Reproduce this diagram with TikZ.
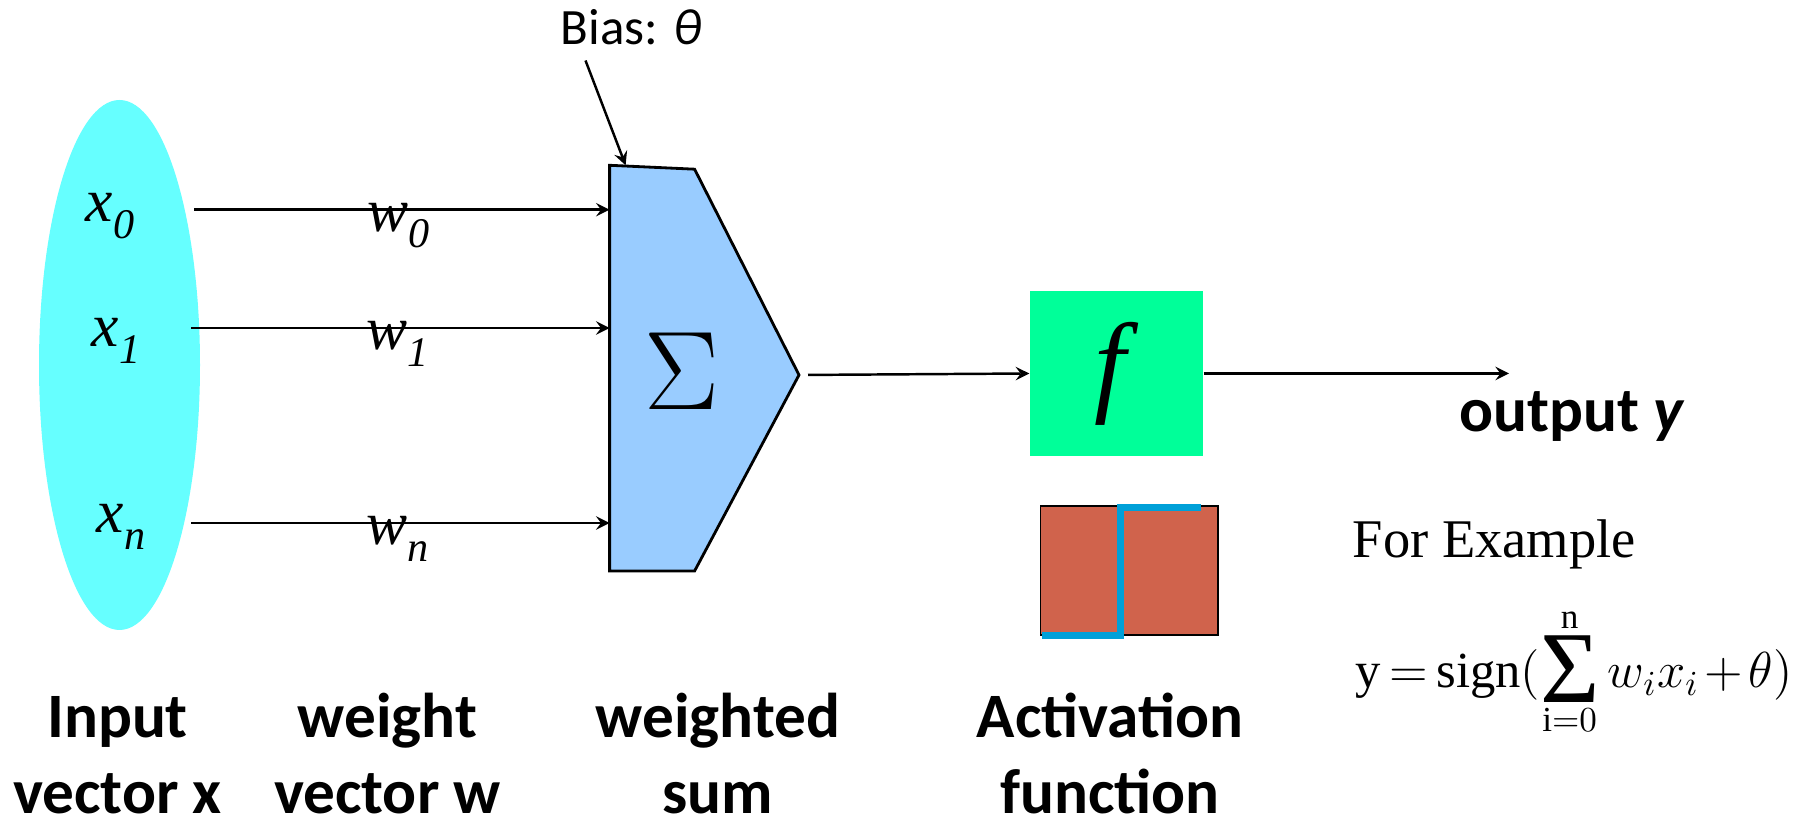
\documentclass[tikz,border=0pt]{standalone}
\usepackage{fontspec}
\setmainfont{Liberation Serif}
\setsansfont{Carlito}
\usepackage{tikz}
\usetikzlibrary{shapes,arrows}
\definecolor{inputcyan}{HTML}{66FFFF}
\definecolor{sumblue}{HTML}{99CCFF}
\definecolor{actgreen}{HTML}{00FF99}
\definecolor{steprust}{HTML}{D0634C}
\definecolor{stepblue}{HTML}{00A0D8}
\newcommand{\sublab}[2]{\textit{#1}\raisebox{-4.6pt}{\fontsize{12}{14}\selectfont\textit{#2}}}
\newcommand{\bigsum}{\mathop{\raisebox{-4pt}{\fontsize{29}{29}\selectfont Σ}}\limits}
\tikzstyle{wire}=[draw=black, line width=0.7pt, -stealth]
\tikzstyle{varlab}=[anchor=base west, inner sep=0pt, font=\fontsize{17.5}{20}\selectfont]
\tikzstyle{caption}=[anchor=base, align=center, inner sep=0pt, text depth=0pt, font=\sffamily\bfseries\fontsize{18}{21.9}\selectfont]
\tikzstyle{inputs}=[ellipse, fill=inputcyan, minimum width=1.61cm, minimum height=5.3cm, inner sep=0pt]
\tikzstyle{actbox}=[rectangle, fill=actgreen, minimum width=1.73cm, minimum height=1.65cm, inner sep=0pt, font=\fontsize{32}{36}\selectfont]
\tikzstyle{stepbox}=[rectangle, draw=black, line width=0.5pt, fill=steprust, minimum width=1.775cm, minimum height=1.29cm]
\tikzstyle{stepline}=[draw=stepblue, line width=2pt]

\begin{document}
\begin{tikzpicture}
\useasboundingbox (0,0) rectangle (18.18,-8.21);

\node[inputs] (vecx) at (1.195,-3.65) {};
\node[varlab] (x0) at (0.85,-2.22) {\sublab{x}{0}};
\node[varlab] (x1) at (0.91,-3.47) {\sublab{x}{1}};
\node[varlab] (xn) at (0.96,-5.33) {\sublab{x}{n}};
\coordinate (in0) at (1.94,-2.097);
\coordinate (in1) at (1.91,-3.28);
\coordinate (inn) at (1.91,-5.23);

% summing block
\draw[fill=sumblue, line width=0.8pt] (6.096,-1.653) coordinate (sumtl) -- (6.946,-1.692)
  -- (7.99,-3.75) coordinate (sumtip) -- (6.946,-5.71) -- (6.096,-5.71) coordinate (sumbl) -- cycle;
\node[scale=1.28, transform shape] (sigma) at (6.82,-3.715) {\fontsize{24.88}{30}\selectfont $\Sigma$};

\draw[wire] (in0) -- (in0 -| sumtl);
\draw[wire] (in1) -- (in1 -| sumtl);
\draw[wire] (inn) -- (inn -| sumtl);
\node[varlab] (w0) at (3.67,-2.314) {\sublab{w}{0}};
\node[varlab] (w1) at (3.66,-3.5) {\sublab{w}{1}};
\node[varlab] (wn) at (3.66,-5.45) {\sublab{w}{n}};

\node[anchor=base west, inner sep=0pt, font=\sffamily\fontsize{14.5}{17}\selectfont] (bias) at (5.6,-0.45) {Bias: \textit{θ}};
\coordinate (biasin) at (5.855,-0.605);
\draw[wire] (biasin) -- ([xshift=0.16cm]sumtl);

% activation
\node[actbox] (f) at (11.165,-3.735) {\textit{f}};
\draw[wire, shorten <=0.09cm] (sumtip) -- (f.west);
\coordinate (yout) at (15.09,-3.76);
\draw[wire] (f.east) -- (yout |- f.east);
\node[anchor=base west, inner sep=0pt, font=\sffamily\bfseries\fontsize{18}{22}\selectfont] (outy) at (14.59,-4.32) {output \textit{y}};

\node[stepbox] (step) at (11.2925,-5.705) {};
\draw[stepline] ([xshift=0.02cm]step.south west) -- ++(0.79,0) -- ++(0,1.28) -- ++(0.8,0);

\node[anchor=base west, inner sep=0pt, font=\fontsize{15.5}{18}\selectfont] (ex) at (13.52,-5.58) {For Example};
\node[anchor=base west, inner sep=0pt, font=\fontsize{14.4}{18}\selectfont] (rule) at (13.55,-6.88)
  {\thickmuskip=3mu \medmuskip=2mu $\mathrm{y}=\mathrm{sign}(\bigsum_{\mathrm{i}=0}^{\mathrm{n}} w_i x_i+\theta)$};

\node[caption] (capin) at (1.175,-8.14) {Input\\vector x};
\node[caption] (capw) at (3.875,-8.14) {weight\\vector w};
\node[caption] (capsum) at (7.18,-8.14) {weighted\\sum};
\node[caption] (capact) at (11.1,-8.14) {Activation\\function};

\end{tikzpicture}
\end{document}
